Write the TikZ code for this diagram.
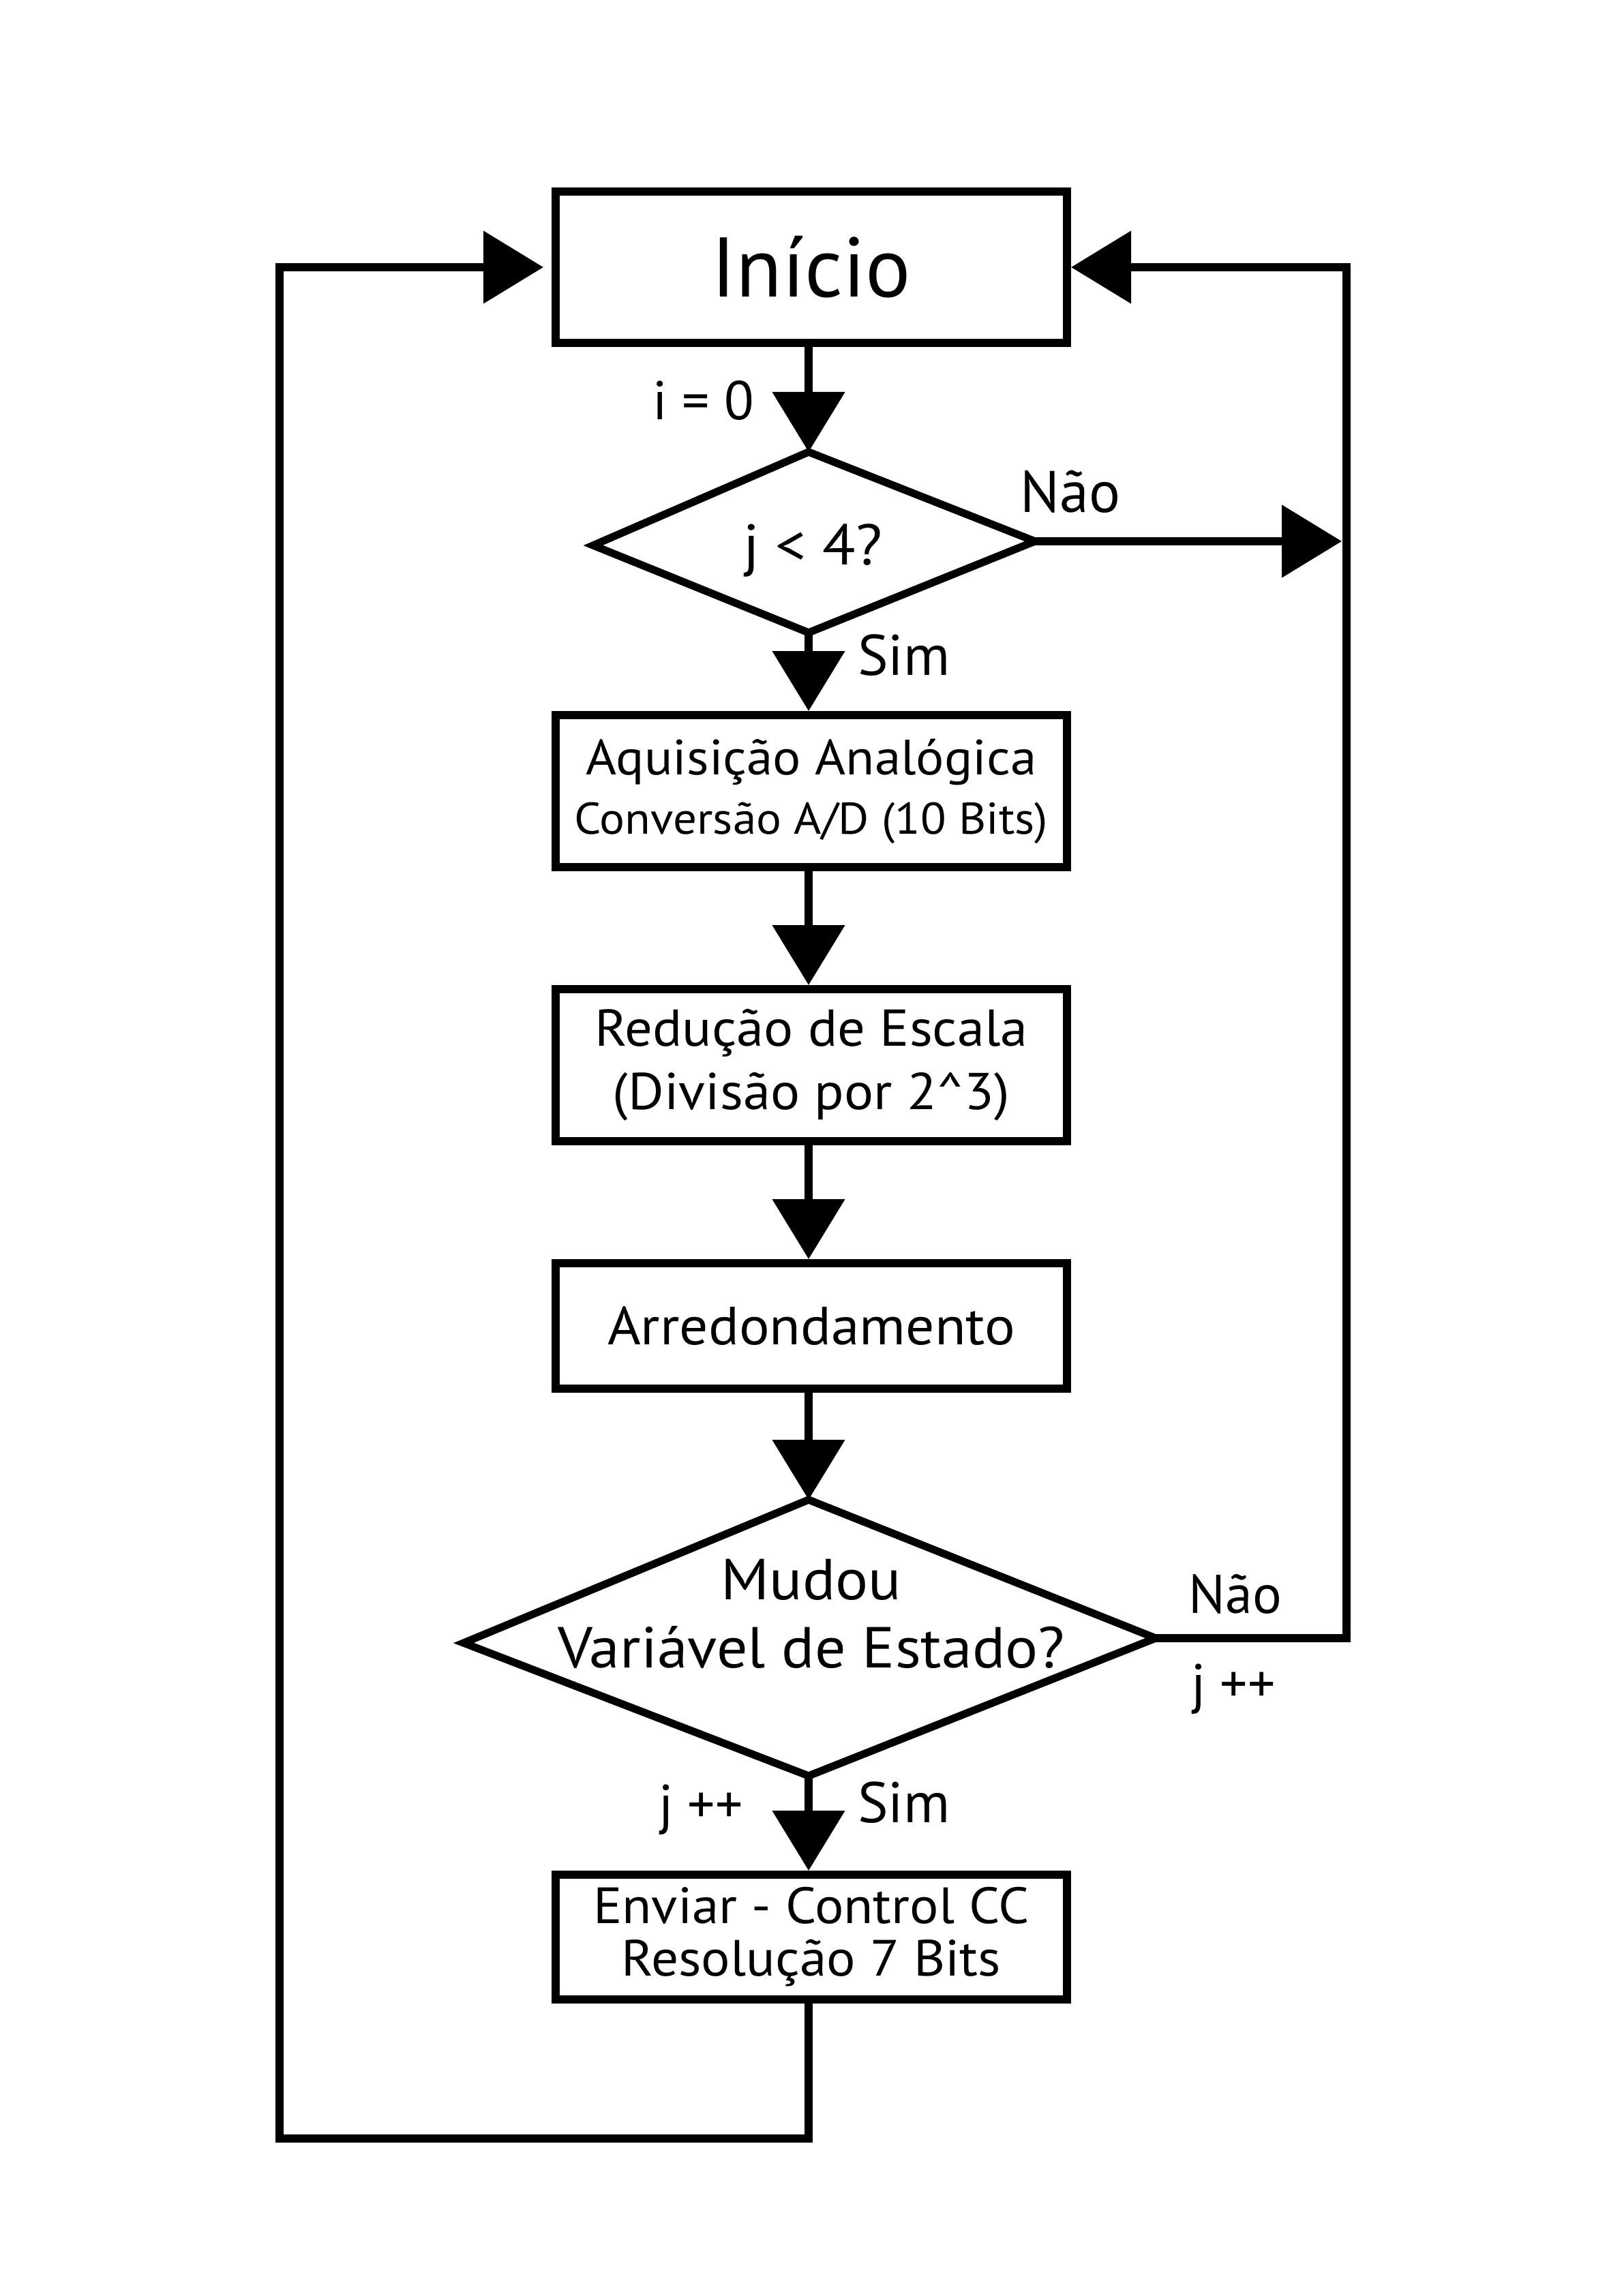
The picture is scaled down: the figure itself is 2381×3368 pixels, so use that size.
\documentclass[tikz,border=0pt]{standalone}
\usepackage{fontspec}
\setmainfont{PT Sans}
\newfontfamily\widefont[FakeStretch=1.06]{PT Sans}
\usetikzlibrary{arrows.meta}
\newcommand{\fs}[2]{\fontsize{#1}{#2}\selectfont}
\begin{document}
\begin{tikzpicture}[x=0.25pt,y=-0.25pt,
  box/.style={draw, line width=3pt, minimum width=187.5pt, inner sep=0pt, align=center},
  conn/.style={line width=3pt, line join=miter},
  arr/.style={conn, -{Triangle[length=22pt,width=26pt]}},
  dia/.style={line width=2.8pt, line join=miter},
  lbl/.style={inner sep=0pt, anchor=base, font=\fs{20}{24}}]
\useasboundingbox (0,0) rectangle (2381,3368);
% boxes
\node[box, font=\fs{31}{34}, minimum height=55.5pt] (ini) at (1190,392) {Início};
\node[box, font=\widefont\fs{18.2}{21.75}, minimum height=55.75pt] (aq) at (1190,1160.5)
  {Aquisição Analógica\\{\fs{16.3}{21.75}Conversão A/D (10 Bits)}};
\node[box, font=\widefont\fs{19}{23.2}, minimum height=55.75pt] (red) at (1190,1562.5)
  {Redução de Escala\\(Divisão por 2\^{}3)};
\node[box, font=\widefont\fs{19.7}{23}, minimum height=46pt] (arr) at (1190,1945) {Arredondamento};
\node[box, font=\widefont\fs{18.7}{19.25}, minimum height=45.75pt] (env) at (1190,2841.5)
  {Enviar - Control CC\\Resolução 7 Bits};
% diamond 1
\coordinate (d1t) at (1186,663);
\coordinate (d1r) at (1518,794);
\coordinate (d1b) at (1186,928);
\coordinate (d1l) at (870,800);
\draw[dia] (d1t) -- (d1r) -- (d1b) -- (d1l) -- cycle;
\node[font=\widefont\fs{21}{24}, inner sep=0pt] (d1txt) at (1192,808) {j < 4?};
% diamond 2
\coordinate (d2t) at (1186,2200);
\coordinate (d2r) at (1695,2403);
\coordinate (d2b) at (1186,2605);
\coordinate (d2l) at (680,2410);
\draw[dia] (d2t) -- (d2r) -- (d2b) -- (d2l) -- cycle;
\node[lbl, font=\widefont\fs{21.2}{25}] (d2a) at (1190,2346) {Mudou};
\node[lbl, font=\widefont\fs{21.2}{25}] (d2c) at (1190,2446) {Variável de Estado?};
% loop coordinates
\coordinate (rt) at (1974.5,392);
\coordinate (rm) at (1974.5,794);
\coordinate (rb) at (1974.5,2403);
\coordinate (lt) at (410,392);
\coordinate (lb) at (410,3137);
\coordinate (eb) at (1186,3137);
% connectors
\draw[arr] (ini.south -| d1t) -- (d1t);
\draw[arr] (d1b) -- (aq.north -| d1b);
\draw[arr] (aq.south -| d1b) -- (red.north -| d1b);
\draw[arr] (red.south -| d1b) -- (arr.north -| d1b);
\draw[arr] (arr.south -| d1b) -- (d2t);
\draw[arr] (d2b) -- (env.north -| d2b);
\draw[arr, shorten >=1.6pt] (d1r) -- (rm);
\draw[arr] (d2r) -- (rb) -- (rt) -- (ini.east);
\draw[arr, shorten >=3pt] (env.south -| eb) -- (eb) -- (lb) -- (lt) -- (ini.west);
% labels
\node[lbl] (li) at (1032,616) {i = 0};
\node[lbl, font=\fs{21.5}{24}] (ln1) at (1570,752) {Não};
\node[lbl, font=\fs{21}{24}] (ls1) at (1326,990) {Sim};
\node[lbl] (ln2) at (1812,2366) {Não};
\node[lbl] (lj2) at (1809,2497) {j ++};
\node[lbl] (lj3) at (1028,2674) {j ++};
\node[lbl, font=\fs{21}{24}] (ls2) at (1326,2673) {Sim};
\end{tikzpicture}
\end{document}
